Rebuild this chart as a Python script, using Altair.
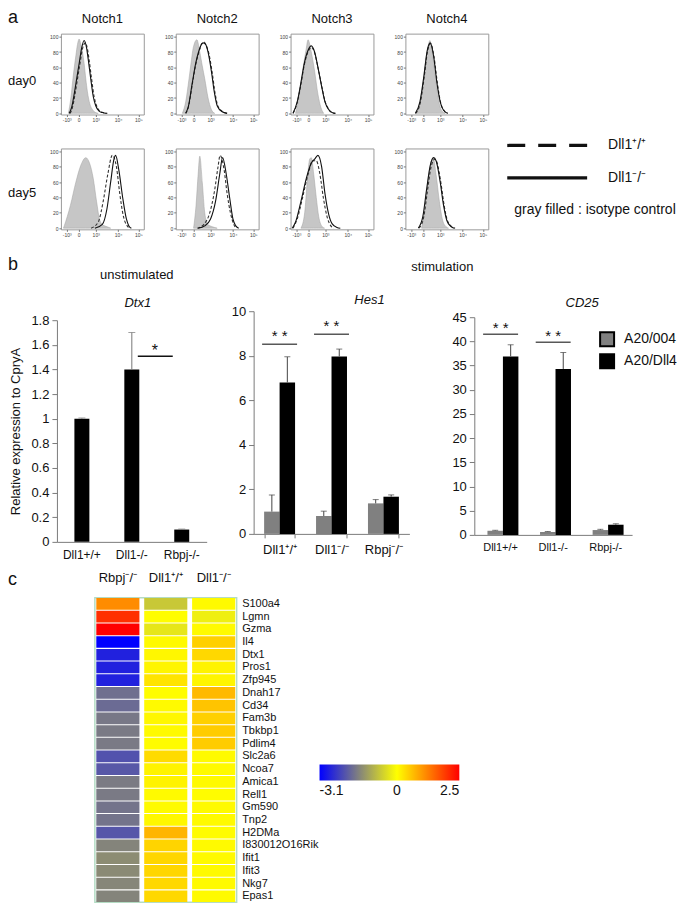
import altair as alt
import pandas as pd

FONT = "Liberation Sans, Arial, Helvetica, sans-serif"

# ---------------- panel a : flow histograms ----------------
HIST_TICK_POS = [7, 21.5, 42, 69, 93.5]
HIST_TICK_LAB = ["-10³", "0", "10³", "10⁴", "10⁵"]
HIST_Y_TICKS = [0, 20, 40, 60, 80, 100]
NOTCHES = ["Notch1", "Notch2", "Notch3", "Notch4"]
DAYS = ["day0", "day5"]

# (position on display axis 0-100, % of max)  iso = isotype, ko = Dll1-/- (solid), wt = Dll1+/+ (dashed)
n1_d0_iso = [(9, 0), (12, 20), (15, 50), (18, 75), (20, 90), (22, 97), (24, 90), (26, 80), (28, 65), (30, 45), (32, 28), (35, 12), (38, 5), (42, 1), (45, 0)]
n1_d0_ko = [(10, 0), (13, 8), (16, 25), (19, 45), (22, 65), (25, 85), (28, 95), (31, 85), (33, 70), (36, 45), (39, 22), (42, 10), (46, 3), (50, 1), (55, 0)]
n1_d0_wt = [(11, 0), (14, 8), (17, 25), (20, 45), (23, 65), (26, 84), (29.5, 92), (32, 84), (34, 70), (37, 45), (40, 22), (43, 10), (47, 3), (51, 1), (56, 0)]

n2_d0_iso = [(8, 0), (12, 15), (16, 45), (19, 70), (21, 85), (25.5, 96), (29, 80), (32, 62), (35, 45), (39, 20), (43, 5), (47, 0)]
n2_d0_ko = [(12, 0), (15, 8), (20, 40), (24, 65), (27.5, 80), (31, 90), (33, 92), (36, 90), (39, 80), (43, 55), (46.5, 28), (50, 10), (56, 2), (62, 0)]
n2_d0_wt = [(12, 0), (15, 7), (20, 38), (24, 63), (28, 80), (31.5, 91), (34, 93), (37, 88), (40, 78), (44, 53), (47.5, 26), (51, 9), (57, 2), (63, 0)]

n3_d0_iso = [(6, 0), (10, 20), (14.5, 55), (19, 85), (21, 96), (25, 80), (29, 55), (33, 25), (36.5, 8), (40, 0)]
n3_d0_ko = [(3, 0), (8, 15), (12.5, 40), (16.5, 65), (21, 82), (25, 88), (29, 80), (33, 60), (37.5, 35), (41.5, 15), (46, 5), (50, 1), (54, 0)]
n3_d0_wt = [(3, 0), (8, 14), (12.5, 38), (16.5, 63), (21, 80), (25, 86), (29, 79), (33, 60), (37.5, 36), (41.5, 16), (46, 5), (50, 1), (54, 0)]

n4_d0_iso = [(13.5, 0), (19.5, 25), (23.5, 60), (27.5, 88), (29.5, 95), (33, 75), (37, 40), (41, 12), (45, 2), (48, 0)]
n4_d0_ko = [(12, 0), (17.5, 15), (22.5, 50), (26, 80), (30, 92), (34, 75), (38, 40), (42, 15), (46, 4), (51, 0)]
n4_d0_wt = [(12.5, 0), (18, 14), (23, 50), (26.5, 80), (30.5, 91), (34.5, 74), (38.5, 40), (42.5, 14), (46.5, 4), (51, 0)]

n1_d5_iso = [(3, 0), (4, 3), (11.5, 30), (18, 60), (24, 82), (30, 92), (34.5, 85), (39, 65), (43, 35), (47, 10), (51, 4), (55.5, 2), (60, 0)]
n1_d5_ko = [(41, 0), (50, 5), (55.5, 25), (60, 60), (64, 90), (66, 95), (70, 75), (74.5, 40), (79, 12), (82, 3), (85, 0)]
n1_d5_wt = [(36.5, 0), (45, 8), (51, 35), (56.5, 70), (62, 95), (67, 80), (71, 45), (75.5, 15), (80, 3), (83, 0)]

n2_d5_iso = [(21.5, 0), (24.5, 30), (27, 70), (29, 94), (32, 60), (35, 20), (38.5, 5), (44, 2), (50, 0)]
n2_d5_ko = [(27, 0), (35, 3), (42, 12), (48, 35), (53, 70), (56.5, 92), (61, 70), (65, 40), (69, 12), (72.5, 3), (76, 0)]
n2_d5_wt = [(26, 0), (34, 5), (41, 20), (47, 50), (51, 80), (53.5, 95), (58.5, 75), (62, 45), (66, 20), (70, 5), (73, 0)]

n3_d5_iso = [(12.5, 0), (17, 20), (20, 60), (23, 90), (25, 92), (28, 70), (31, 40), (34, 15), (37.5, 3), (41, 0)]
n3_d5_ko = [(2, 0), (6, 8), (12.5, 35), (19, 65), (25, 85), (29, 90), (33, 95), (37.5, 80), (41.5, 45), (46, 18), (50, 6), (56, 1), (60, 0)]
n3_d5_wt = [(3, 0), (8, 12), (14.5, 40), (21, 70), (27, 88), (31, 88), (35.5, 70), (39.5, 40), (44, 15), (48, 4), (52, 0)]

n4_d5_iso = [(19.5, 0), (23.5, 25), (27.5, 65), (31.5, 88), (33.5, 92), (37, 70), (41, 35), (45, 10), (49, 2), (52, 0)]
n4_d5_ko = [(15.5, 0), (21, 15), (25.5, 50), (30, 82), (34, 92), (37, 88), (42, 60), (46, 30), (50, 10), (55, 2), (59, 0)]
n4_d5_wt = [(16.5, 0), (22, 14), (26.5, 48), (31, 80), (35.5, 90), (38, 86), (43, 58), (47, 28), (51, 9), (56, 2), (60, 0)]

LEG_ROWS = ["Dll1⁺/⁺", "Dll1⁻/⁻", "gray filled : isotype control"]

# ---------------- panel b : qPCR bars ----------------
B_CATS = ["Dll1+/+", "Dll1-/-", "Rbpj-/-"]
B_CATS_SUP = ["Dll1⁺/⁺", "Dll1⁻/⁻", "Rbpj⁻/⁻"]
CONDS = ["A20/004", "A20/Dll4"]

DTX1_MEAN = [1.0, 1.4, 0.1]
DTX1_ERR = [0.006, 0.3, 0.004]
DTX1_TICKS = [0, 0.2, 0.4, 0.6, 0.8, 1, 1.2, 1.4, 1.6, 1.8]

HES1_004 = [1.0, 0.8, 1.37]
HES1_004_ERR = [0.75, 0.22, 0.17]
HES1_DLL4 = [6.8, 7.97, 1.67]
HES1_DLL4_ERR = [1.15, 0.33, 0.08]
HES1_TICKS = [0, 2, 4, 6, 8, 10]

CD25_004 = [0.85, 0.6, 1.0]
CD25_004_ERR = [0.1, 0.1, 0.15]
CD25_DLL4 = [36.9, 34.3, 2.1]
CD25_DLL4_ERR = [2.4, 3.4, 0.2]
CD25_TICKS = [0, 5, 10, 15, 20, 25, 30, 35, 40, 45]

HES1_SIG_CATS = ["Dll1⁺/⁺", "Dll1⁻/⁻"]
HES1_SIG_LINE = [8.52, 8.97]
HES1_SIG_TEXT = [8.88, 9.33]
CD25_SIG_CATS = ["Dll1+/+", "Dll1-/-"]
CD25_SIG_LINE = [41.5, 39.8]
CD25_SIG_TEXT = [42.7, 41.1]

# ---------------- panel c : heatmap ----------------
HM_GROUPS = ["Rbpj⁻/⁻", "Dll1⁺/⁺", "Dll1⁻/⁻"]
GENES = ["S100a4", "Lgmn", "Gzma", "Il4", "Dtx1", "Pros1", "Zfp945", "Dnah17", "Cd34", "Fam3b",
         "Tbkbp1", "Pdlim4", "Slc2a6", "Ncoa7", "Amica1", "Rell1", "Gm590", "Tnp2", "H2DMa",
         "I830012O16Rik", "Ifit1", "Ifit3", "Nkg7", "Epas1"]
HM_RBPJ = [1.13, 2.03, 2.5, -3.1, -2.7, -2.7, -2.7, -1.74, -1.8, -1.64, -1.62, -1.62, -2.1, -2.03,
           -1.6, -1.62, -1.69, -1.69, -2.06, -1.5, -1.4, -1.42, -1.47, -1.5]
HM_WT = [-0.67, 0.02, -0.3, 0.05, 0.08, 0.1, 0.26, 0.02, 0.05, 0.08, 0.05, 0.03, 0.35, 0.12,
         0.12, 0.05, 0.05, 0.08, 0.73, 0.42, 0.4, 0.4, 0.38, 0.38]
HM_KO = [0.05, -0.2, 0.05, 0.46, 0.38, 0.12, 0.1, 0.69, 0.58, 0.46, 0.5, 0.5, 0.05, 0.05,
         0.05, 0.03, 0.05, 0.05, 0.03, 0.05, 0.05, 0.05, 0.05, 0.05]
HM_DOMAIN = [-3.1, 0, 2.5]
HM_COLORS = ["#0000ff", "#ffff00", "#ff0000"]


# ---------------- helpers ----------------
def txt(text, x, y, size=13, align="left", baseline="middle", style="normal", color="#111"):
    return alt.Chart(pd.DataFrame({"t": [text]})).mark_text(
        align=align, baseline=baseline, fontSize=size, fontStyle=style, font=FONT, color=color
    ).encode(text="t:N", x=alt.value(x), y=alt.value(y))


def anchor(y):
    # invisible text fixing the top extent of a layout row
    return alt.Chart(pd.DataFrame({"t": ["."]})).mark_text(
        align="left", baseline="top", fontSize=10, opacity=0
    ).encode(text="t:N", x=alt.value(0), y=alt.value(y))


def spacer(w, h, *labels):
    layers = list(labels) if labels else [txt("", 0, 0)]
    return alt.layer(*layers).properties(width=w, height=h)


HIST_LABEL_EXPR = "".join(f"datum.value == {p} ? '{l}' : " for p, l in zip(HIST_TICK_POS, HIST_TICK_LAB)) + "''"
PW, PH = 83, 81


def hist_panel(iso, ko, wt, title=None):
    xs = alt.Scale(domain=[0, 100], nice=False, zero=False)
    ys = alt.Scale(domain=[-1.5, 104], nice=False, zero=False)
    xax = alt.Axis(values=HIST_TICK_POS, tickCount=len(HIST_TICK_POS), labelExpr=HIST_LABEL_EXPR, title=None,
                   grid=False, domain=False, tickSize=2, tickColor="#777", labelFontSize=5, labelPadding=1,
                   labelColor="#444", labelOverlap=False, labelFlush=False)
    yax = alt.Axis(values=HIST_Y_TICKS, tickCount=len(HIST_Y_TICKS), title=None, grid=False, domain=False,
                   tickSize=2, tickColor="#777", labelFontSize=5, labelPadding=1, labelColor="#444",
                   labelOverlap=False, labelFlush=False)

    def df(pts):
        return pd.DataFrame(pts, columns=["x", "y"])

    area = alt.Chart(df(iso)).mark_area(fill="#c6c6c6", stroke="#a0a0a0", strokeWidth=0.5,
                                        interpolate="monotone").encode(
        x=alt.X("x:Q", scale=xs, axis=xax), y=alt.Y("y:Q", scale=ys, axis=yax))
    dashed = alt.Chart(df(wt)).mark_line(color="#333", strokeWidth=1.1, strokeDash=[3, 2],
                                         interpolate="monotone").encode(x="x:Q", y="y:Q")
    solid = alt.Chart(df(ko)).mark_line(color="#111", strokeWidth=1.1,
                                        interpolate="monotone").encode(x="x:Q", y="y:Q")
    layers = [area, dashed, solid]
    if title:
        layers.append(txt(title, PW / 2, -15, size=13, align="center"))
    return alt.layer(*layers).properties(width=PW, height=PH,
                                         view=alt.ViewBackground(stroke="#9a9a9a", strokeWidth=1))


curves_d0 = [(n1_d0_iso, n1_d0_ko, n1_d0_wt), (n2_d0_iso, n2_d0_ko, n2_d0_wt),
             (n3_d0_iso, n3_d0_ko, n3_d0_wt), (n4_d0_iso, n4_d0_ko, n4_d0_wt)]
curves_d5 = [(n1_d5_iso, n1_d5_ko, n1_d5_wt), (n2_d5_iso, n2_d5_ko, n2_d5_wt),
             (n3_d5_iso, n3_d5_ko, n3_d5_wt), (n4_d5_iso, n4_d5_ko, n4_d5_wt)]
hist_d0 = [hist_panel(*c, title=n) for c, n in zip(curves_d0, NOTCHES)]
hist_d5 = [hist_panel(*c) for c in curves_d5]

# legend for the histograms
leg_y = alt.Y("label:N", scale=alt.Scale(type="point", domain=LEG_ROWS, range=[-3, 62], padding=0), axis=None)
leg_x_scale = alt.Scale(domain=[0, 1], nice=False)
leg_lines = pd.DataFrame({"label": LEG_ROWS[:2]})
leg_note = pd.DataFrame({"label": LEG_ROWS[2:]})
leg_rule = alt.Chart(leg_lines).mark_rule(strokeWidth=3.2, color="#111").encode(
    x=alt.XDatum(0, type="quantitative", scale=leg_x_scale, axis=None),
    x2=alt.X2Datum(1),
    y=leg_y,
    strokeDash=alt.StrokeDash("label:N", scale=alt.Scale(domain=LEG_ROWS[:2], range=[[18, 13], [1, 0]]),
                              legend=None))
leg_lab = alt.Chart(leg_lines).mark_text(align="left", baseline="middle", fontSize=14, font=FONT,
                                         color="#111", dx=21).encode(
    x=alt.XDatum(1, type="quantitative", scale=leg_x_scale, axis=None), y=leg_y, text="label:N")
leg_iso = alt.Chart(leg_note).mark_text(align="left", baseline="middle", fontSize=14, font=FONT,
                                        color="#111", dx=7).encode(
    x=alt.XDatum(0, type="quantitative", scale=leg_x_scale, axis=None), y=leg_y, text="label:N")
hist_legend = alt.layer(leg_rule, leg_lab, leg_iso).properties(width=80, height=PH)

# ---------------- panel b charts ----------------
AX_COL = "#7a7a7a"


def y_axis(values, size=13, title=None, fmt="~r"):
    kw = dict(values=values, tickCount=len(values), format=fmt, grid=False, tickSize=5, tickColor=AX_COL,
              domainColor=AX_COL, labelFontSize=size, labelColor="#111", labelPadding=3, labelOverlap=False,
              labelFlush=False)
    if title:
        kw.update(title=title, titleFontSize=13, titleFontWeight="normal", titlePadding=8, titleColor="#111")
    else:
        kw.update(title=None)
    return alt.Axis(**kw)


def x_axis(size, pad, ticks=False):
    kw = dict(title=None, labelAngle=0, labelFontSize=size, labelPadding=pad, ticks=ticks,
              domainColor=AX_COL, labelColor="#111", labelOverlap=False)
    if ticks:
        kw.update(tickBand="extent", tickSize=4, tickColor=AX_COL)
    return alt.Axis(**kw)


DTX1_H, DTX1_TOP = 231, 9
dtx1_df = pd.DataFrame({"cat": B_CATS, "v": DTX1_MEAN, "top": [m + e for m, e in zip(DTX1_MEAN, DTX1_ERR)]})
dtx1_sig = pd.DataFrame({"cat": ["Dll1-/-"], "cat2": ["Rbpj-/-"], "y": [1.508], "ty": [1.55], "m": ["*"]})
dx_scale = alt.Scale(domain=B_CATS, paddingInner=0.7, paddingOuter=0.35)
dtx1_bars = alt.Chart(dtx1_df).mark_bar(color="#000").encode(
    x=alt.X("cat:N", scale=dx_scale, axis=x_axis(12, 8)),
    y=alt.Y("v:Q", scale=alt.Scale(domain=[0, 1.8], nice=False, range=[DTX1_H, DTX1_TOP]),
            axis=y_axis(DTX1_TICKS, title="Relative expression to CpryA")))
dtx1_err = alt.Chart(dtx1_df).mark_rule(color="#777", strokeWidth=1).encode(x="cat:N", y="v:Q", y2="top:Q")
dtx1_cap = alt.Chart(dtx1_df).mark_tick(color="#777", thickness=1, size=7).encode(x="cat:N", y="top:Q")
dtx1_line = alt.Chart(dtx1_sig).mark_rule(color="#111", strokeWidth=1.5, xOffset=6, x2Offset=-9).encode(
    x="cat:N", x2="cat2:N", y="y:Q")
dtx1_star = alt.Chart(dtx1_sig).mark_text(fontSize=16, font=FONT, color="#111", dx=23).encode(
    x="cat:N", y="ty:Q", text="m:N")
dtx1 = alt.layer(dtx1_bars, dtx1_err, dtx1_cap, dtx1_line, dtx1_star,
                 txt("unstimulated", 80, -36, size=13, align="center"),
                 txt("Dtx1", 81, -8, size=13, align="center", style="italic")).properties(width=150, height=DTX1_H)


def grouped(cats, a, a_err, b, b_err):
    rows = []
    for c, m1, e1, m2, e2 in zip(cats, a, a_err, b, b_err):
        rows.append({"cat": c, "cond": CONDS[0], "v": m1, "top": m1 + e1})
        rows.append({"cat": c, "cond": CONDS[1], "v": m2, "top": m2 + e2})
    return pd.DataFrame(rows)


def group_chart(df, cats, pin, pout, sub_pad, ymax, ticks, xsize, xpad, xticks, legend, sig_cats, sig_line,
                sig_text, w, h, top, extra):
    xs = alt.Scale(domain=cats, paddingInner=pin, paddingOuter=pout)
    xo = alt.XOffset("cond:N", scale=alt.Scale(domain=CONDS, paddingInner=sub_pad))
    fill = alt.Fill("cond:N", scale=alt.Scale(domain=CONDS, range=["#808080", "#000000"]), legend=legend)
    bars = alt.Chart(df).mark_bar().encode(
        x=alt.X("cat:N", scale=xs, axis=x_axis(xsize, xpad, xticks)), xOffset=xo,
        y=alt.Y("v:Q", scale=alt.Scale(domain=[0, ymax], nice=False, range=[h, top]), axis=y_axis(ticks)),
        fill=fill)
    err = alt.Chart(df).mark_rule(color="#444", strokeWidth=1).encode(x="cat:N", xOffset=xo, y="v:Q", y2="top:Q")
    cap = alt.Chart(df).mark_tick(color="#444", thickness=1, size=6).encode(x="cat:N", xOffset=xo, y="top:Q")
    sig = pd.DataFrame({"cat": sig_cats, "y": sig_line, "ty": sig_text, "m": ["* *"] * len(sig_cats)})
    line = alt.Chart(sig).mark_tick(color="#111", thickness=1.5, size=35).encode(x="cat:N", y="y:Q")
    star = alt.Chart(sig).mark_text(fontSize=15, font=FONT, color="#111").encode(x="cat:N", y="ty:Q", text="m:N")
    return alt.layer(bars, err, cap, line, star, *extra).properties(width=w, height=h)


hes1 = group_chart(grouped(B_CATS_SUP, HES1_004, HES1_004_ERR, HES1_DLL4, HES1_DLL4_ERR), B_CATS_SUP,
                   0.404, 0.202, 0.0, 10, HES1_TICKS, 13, 6, True, None, HES1_SIG_CATS, HES1_SIG_LINE,
                   HES1_SIG_TEXT, 156, 223, 0,
                   [txt("stimulation", 189, -44, size=13, align="center"),
                    txt("Hes1", 116, -11, size=13, align="center", style="italic")])

cd25_legend = alt.Legend(orient="none", legendX=125, legendY=20, title=None, symbolType="square",
                         symbolSize=196, symbolStrokeColor="#000", symbolStrokeWidth=2, labelFontSize=14,
                         labelFont=FONT, labelColor="#111", rowPadding=0, labelOffset=9, padding=0)
cd25 = group_chart(grouped(B_CATS, CD25_004, CD25_004_ERR, CD25_DLL4, CD25_DLL4_ERR), B_CATS,
                   0.5, 0.25, 0.1, 45, CD25_TICKS, 11, 7, False, cd25_legend, CD25_SIG_CATS, CD25_SIG_LINE,
                   CD25_SIG_TEXT, 158, 224, 6,
                   [txt("CD25", 108, -8, size=13, align="center", style="italic")])

# ---------------- panel c heatmap ----------------
hm_rows = []
for g, vals in zip(HM_GROUPS, [HM_RBPJ, HM_WT, HM_KO]):
    for gene, v in zip(GENES, vals):
        hm_rows.append({"group": g, "gene": gene, "value": v})
hm_df = pd.DataFrame(hm_rows)

hm_legend = alt.Legend(orient="none", legendX=225, legendY=167, direction="horizontal", gradientLength=140,
                       gradientThickness=16, title=None, values=[-3.1, 0, 2.5], labelFontSize=14,
                       labelFont=FONT, labelColor="#111", labelAlign="center", labelOffset=4, padding=0,
                       gradientStrokeWidth=0, labelOverlap=False,
                       labelExpr="datum.value < 0 ? '-' + format(-datum.value, '~g') : format(datum.value, '~g')")
heat = alt.Chart(hm_df).mark_rect().encode(
    x=alt.X("group:N", sort=HM_GROUPS, scale=alt.Scale(domain=HM_GROUPS, paddingInner=0.1, paddingOuter=0.03),
            axis=alt.Axis(orient="top", title=None, labelAngle=0, ticks=False, domain=False, labelFontSize=13,
                          labelPadding=13, labelColor="#111")),
    y=alt.Y("gene:N", sort=GENES, scale=alt.Scale(domain=GENES, paddingInner=0.08, paddingOuter=0.02),
            axis=alt.Axis(orient="right", title=None, ticks=False, domain=False, labelFontSize=11,
                          labelPadding=5, labelColor="#111", labelOverlap=False)),
    color=alt.Color("value:Q", scale=alt.Scale(domain=HM_DOMAIN, range=HM_COLORS, interpolate="rgb"),
                    legend=hm_legend),
).properties(width=142, height=305, view=alt.ViewBackground(stroke="#b4dcc4", strokeWidth=1.5))

# ---------------- layout: rows of flush hconcats stacked in a vconcat ----------------
S = spacer


def row(*items):
    return alt.hconcat(*items, spacing=0, bounds="flush")


row_d0 = row(S(53, 95, txt("a", 0, -25, size=18, baseline="top"), txt(DAYS[0], 0, 47)),
             hist_d0[0], S(32, PH), hist_d0[1], S(32, PH), hist_d0[2], S(32, PH), hist_d0[3])
row_d5 = row(S(53, 103, anchor(-20), txt(DAYS[1], 0, 45)),
             hist_d5[0], S(32, PH), hist_d5[1], S(32, PH), hist_d5[2], S(32, PH), hist_d5[3],
             S(19, PH), hist_legend)
row_b = row(S(49, 257, anchor(-60), txt("b", 0, -41, size=18, baseline="alphabetic")),
            dtx1, S(47, 1), hes1, S(65, 1), cd25).resolve_scale(fill="independent")
row_c = row(S(87, 305, anchor(-30), txt("c", 0, -13, size=18, baseline="alphabetic")),
            heat).resolve_scale(color="independent")

chart = alt.vconcat(row_d0, row_d5, row_b, row_c, spacing=0).resolve_scale(
    fill="independent", color="independent"
).properties(padding=0).configure(font=FONT).configure_view(strokeWidth=0).configure_axis(
    labelFont=FONT, titleFont=FONT, labelOverlap=False)

chart.save("out.html", embed_options={"renderer": "svg", "actions": False})
